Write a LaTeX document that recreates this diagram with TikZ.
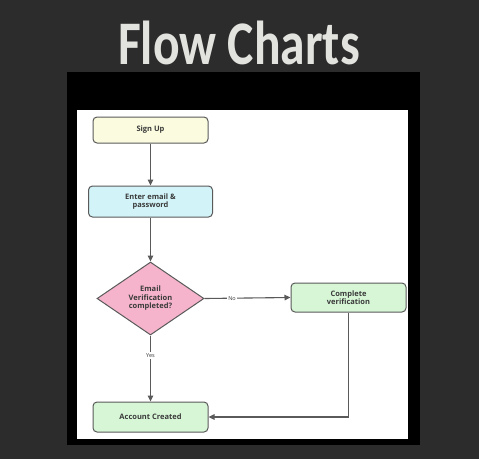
\documentclass[tikz,border=0pt]{standalone}
\usepackage{fontspec}
\setmainfont{Open Sans}
\newfontfamily\titlefont{Carlito}
\usetikzlibrary{shapes.geometric,arrows.meta}
\definecolor{board}{HTML}{2C2C2C}
\definecolor{chalk}{HTML}{E2E2DE}
\definecolor{edge}{HTML}{5A5A5A}
\definecolor{txt}{HTML}{3A3A3A}
\definecolor{yel}{HTML}{FBFBDF}
\definecolor{cyn}{HTML}{D2F4F8}
\definecolor{pnk}{HTML}{F5B4CB}
\definecolor{grn}{HTML}{D6F6D6}
\tikzset{
  box/.style={draw=edge, line width=1pt, rounded corners=4pt, inner sep=0pt, align=center,
    font=\fontsize{7.5}{8.5}\selectfont\bfseries, text=txt},
  dec/.style={draw=edge, line width=1pt, diamond, inner sep=0pt, align=center,
    font=\fontsize{7.5}{8.5}\selectfont\bfseries, text=txt, minimum width=107pt, minimum height=73pt},
  conn/.style={draw=edge, line width=1.1pt, -{Triangle[length=6pt,width=5.5pt]}},
  lbl/.style={font=\fontsize{5.5}{6}\selectfont, text=txt, fill=white, inner sep=1.5pt}
}
\begin{document}
\begin{tikzpicture}[x=1pt,y=-1pt]
\fill[board] (0,0) rectangle (479,459);
\useasboundingbox (0,0) rectangle (479,459);
\node[text=chalk, font=\titlefont\bfseries\fontsize{62}{62}\selectfont, xscale=0.8] (title) at (239,43) {Flow Charts};
\fill[black] (67,72) rectangle (420,445);
\fill[white] (77,110) rectangle (408,439);
\node[box, fill=yel, minimum width=115pt, minimum height=26pt] (signup) at (150.5,130) {Sign Up};
\node[box, fill=cyn, minimum width=124pt, minimum height=31pt] (enter) at (150.5,201.5) {Enter email \&\\password};
\node[dec, fill=pnk] (verif) at (150.5,298.5) {Email\\Verification\\completed?};
\node[box, fill=grn, minimum width=115pt, minimum height=29pt] (complete) at (348.5,297.5) {Complete\\verification};
\node[box, fill=grn, minimum width=115pt, minimum height=30pt] (account) at (150.5,417) {Account Created};
\coordinate (corner) at (complete.south |- account.east);
\draw[conn] (signup) -- (enter);
\draw[conn] (enter) -- (verif);
\draw[conn] (verif.east) -- node[lbl, pos=0.32] {No} (complete.west);
\draw[conn] (verif.south) -- node[lbl, pos=0.3] {Yes} (account.north);
\draw[conn] (complete.south) -- (corner) -- (account.east);
\end{tikzpicture}
\end{document}
